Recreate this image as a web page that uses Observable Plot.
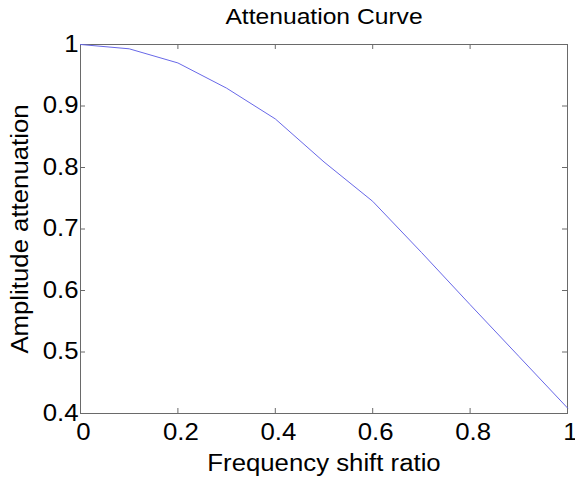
<!DOCTYPE html>
<html>
<head>
<meta charset="utf-8">
<script src="https://cdn.jsdelivr.net/npm/d3@7"></script>
<script src="https://cdn.jsdelivr.net/npm/@observablehq/plot@0.6"></script>
<style>
  html, body { margin: 0; padding: 0; background: #fff; }
  #chart { width: 575px; height: 479px; }
  svg { font-family: "Liberation Sans", Arial, sans-serif; }
</style>
</head>
<body>
<div id="chart"></div>
<script>
// Data
const shiftRatio = [0, 0.1, 0.2, 0.3, 0.4, 0.5, 0.6, 0.7, 0.8, 0.9, 1.0];
const attenuation = [1.0, 0.993, 0.970, 0.929, 0.879, 0.809, 0.745, 0.662, 0.577, 0.493, 0.409];
const xTicks = [0, 0.2, 0.4, 0.6, 0.8, 1];
const yTicks = [0.4, 0.5, 0.6, 0.7, 0.8, 0.9, 1];
const titleText = "Attenuation Curve";
const xLabel = "Frequency shift ratio";
const yLabel = "Amplitude attenuation";

const W = 575, H = 479;
const M = {top: 44, right: 8, bottom: 66, left: 80};
const innerH = H - M.top - M.bottom;
const innerW = W - M.left - M.right;
const TICK = 5;
const axisColor = "#6a6a6a";

const data = shiftRatio.map((x, i) => ({x, y: attenuation[i]}));

const chart = Plot.plot({
  width: W,
  height: H,
  marginTop: M.top,
  marginRight: M.right,
  marginBottom: M.bottom,
  marginLeft: M.left,
  style: {fontFamily: "'Liberation Sans', Arial, sans-serif", background: "#fff"},
  x: {domain: [0, 1]},
  y: {domain: [0.4, 1]},
  marks: [
    Plot.frame({stroke: axisColor, strokeWidth: 1}),
    // inward ticks, bottom & top
    Plot.ruleX(xTicks, {stroke: axisColor, insetTop: innerH - TICK}),
    Plot.ruleX(xTicks, {stroke: axisColor, insetBottom: innerH - TICK}),
    // inward ticks, left & right
    Plot.ruleY(yTicks, {stroke: axisColor, insetRight: innerW - TICK}),
    Plot.ruleY(yTicks, {stroke: axisColor, insetLeft: innerW - TICK}),
    Plot.axisX(xTicks, {
      tickSize: 0, tickPadding: 10, label: null, fontSize: 23,
      tickFormat: d => String(d), color: "#000", dx: 3
    }),
    Plot.axisY(yTicks, {
      tickSize: 0, tickPadding: 2, label: null, fontSize: 23,
      tickFormat: d => String(d), color: "#000"
    }),
    Plot.line(data, {x: "x", y: "y", stroke: "#6868e8", strokeWidth: 1}),
    Plot.text([titleText], {
      frameAnchor: "top", dy: -21, lineAnchor: "bottom",
      fontSize: 22, fill: "#000", textAnchor: "middle"
    }),
    Plot.text([xLabel], {
      frameAnchor: "bottom", dy: 57, lineAnchor: "bottom",
      fontSize: 23, fill: "#000", textAnchor: "middle"
    }),
    Plot.text([yLabel], {
      frameAnchor: "left", dx: -53, rotate: -90, lineAnchor: "bottom",
      fontSize: 23, fill: "#000", textAnchor: "middle"
    })
  ]
});

document.getElementById("chart").appendChild(chart);

// Horizontal glyph stretch to mimic the reference's widened text
const STRETCH = 1.12;
chart.querySelectorAll("text").forEach(t => {
  const len = t.getComputedTextLength();
  if (len > 0) {
    t.setAttribute("textLength", (len * STRETCH).toFixed(2));
    t.setAttribute("lengthAdjust", "spacingAndGlyphs");
  }
});
</script>
</body>
</html>
